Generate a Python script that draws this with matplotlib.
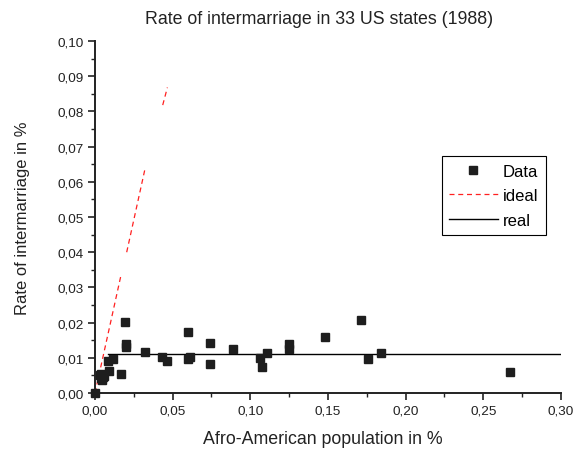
import numpy as np
import matplotlib
matplotlib.use("Agg")
from matplotlib import pyplot as plt
from matplotlib.ticker import MultipleLocator, FuncFormatter

plt.rcParams['font.family'] = ['Liberation Sans', 'DejaVu Sans']

# data (fraction of population / rate)
data_x = [0.0, 0.0037, 0.005, 0.0045, 0.003, 0.0055, 0.0084, 0.0088, 0.0116,
          0.0165, 0.0195, 0.0200, 0.0200, 0.0324, 0.0433, 0.0466, 0.0600,
          0.0612, 0.0600, 0.0740, 0.0740, 0.0890, 0.1062, 0.1073, 0.1110,
          0.1250, 0.1250, 0.1480, 0.1710, 0.1760, 0.1840, 0.2670, 0.0040]
data_y = [0.0, 0.0054, 0.0045, 0.0038, 0.0050, 0.0048, 0.0090, 0.0062, 0.0097,
          0.0054, 0.0201, 0.0138, 0.0130, 0.0116, 0.0103, 0.0090, 0.0174,
          0.0103, 0.0097, 0.0141, 0.0082, 0.0125, 0.0099, 0.0073, 0.0113,
          0.0139, 0.0125, 0.0160, 0.0207, 0.0097, 0.0114, 0.0061, 0.0042]

# "ideal" line, broken as in the original plot
ideal_x = [0.0, 0.0165, np.nan, 0.0204, 0.0324, np.nan, 0.0436, 0.0466]
ideal_y = [0.0, 0.0330, np.nan, 0.0400, 0.0641, np.nan, 0.0818, 0.0868]

real_x = [0.0084, 0.30]
real_y = [0.0110, 0.0110]

fig = plt.figure(figsize=(5.73, 4.52), dpi=100)
ax = fig.add_axes([0.1658, 0.1283, 0.8132, 0.7787])

ax.plot(data_x, data_y, 's', color='#1e1e1e', markersize=6.3, label='Data',
        zorder=3, clip_on=False)
ax.plot(ideal_x, ideal_y, '--', color='#ff2020', lw=0.9, dashes=(4, 3),
        label='ideal', zorder=2)
ax.plot(real_x, real_y, '-', color='black', lw=1.0, label='real', zorder=2)

ax.set_xlim(0, 0.30)
ax.set_ylim(0, 0.10)
ax.xaxis.set_major_locator(MultipleLocator(0.05))
ax.xaxis.set_minor_locator(MultipleLocator(0.025))
ax.yaxis.set_major_locator(MultipleLocator(0.01))
ax.yaxis.set_minor_locator(MultipleLocator(0.005))
comma = FuncFormatter(lambda v, p: f"{v:.2f}".replace('.', ','))
ax.xaxis.set_major_formatter(comma)
ax.yaxis.set_major_formatter(comma)

for s in ['top', 'right']:
    ax.spines[s].set_visible(False)
for s in ['left', 'bottom']:
    ax.spines[s].set_linewidth(1.4)
    ax.spines[s].set_color('#222222')

ax.tick_params(which='major', direction='out', length=5, width=1.2,
               labelsize=9.7, colors='#222222', pad=3)
ax.tick_params(which='minor', direction='out', length=3, width=1.0,
               colors='#222222')

ax.set_xlabel('Afro-American population in %', fontsize=12.8,
              color='#222222', va='center')
ax.xaxis.set_label_coords(0.489, -0.128)
ax.set_ylabel('Rate of intermarriage in %', fontsize=11.9, color='#222222')
ax.yaxis.set_label_coords(-0.139, 0.5)
fig.text(319 / 573, 1 - 19 / 452, 'Rate of intermarriage in 33 US states (1988)',
         fontsize=12.8, color='#222222', ha='center', va='center')

leg = ax.legend(loc='upper left', bbox_to_anchor=(0.744, 0.673),
                fontsize=12, frameon=True, fancybox=False, framealpha=1,
                edgecolor='black', handlelength=2.9, borderpad=0.45,
                labelspacing=0.58, handletextpad=0.3, borderaxespad=0)
leg.get_frame().set_linewidth(0.8)

fig.savefig('out.png', dpi=100)
